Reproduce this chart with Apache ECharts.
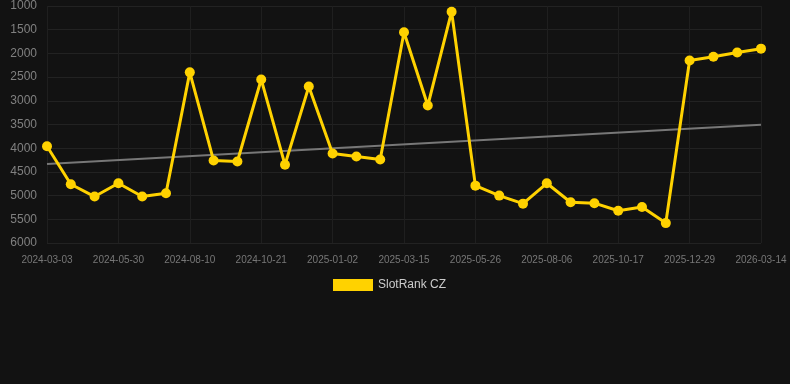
<!DOCTYPE html>
<html><head><meta charset="utf-8">
<script src="https://cdn.jsdelivr.net/npm/echarts@6/dist/echarts.min.js"></script>
<style>html,body{margin:0;padding:0;background:#121212;}#c{width:790px;height:384px;}</style>
</head><body><div id="c"></div>
<script>
const categories = ['2024-03-03','2024-03-31','2024-04-29','2024-05-30','2024-06-23','2024-07-17','2024-08-10','2024-09-03','2024-09-27','2024-10-21','2024-11-14','2024-12-09','2025-01-02','2025-01-26','2025-02-19','2025-03-15','2025-04-08','2025-05-02','2025-05-26','2025-06-19','2025-07-13','2025-08-06','2025-08-30','2025-09-23','2025-10-17','2025-11-10','2025-12-05','2025-12-29','2026-01-23','2026-02-17','2026-03-14'];
const rankValues = [3960,4760,5020,4740,5020,4950,2400,4260,4280,2550,4350,2700,4110,4175,4240,1555,3100,1120,4790,5000,5170,4740,5140,5160,5320,5240,5580,2150,2070,1980,1900];
const trendStart = 4335;
const trendEnd = 3507;
const seriesName = 'SlotRank CZ';

const chart = echarts.init(document.getElementById('c'), null, {renderer:'canvas'});
chart.setOption({
  backgroundColor: '#121212',
  animation: false,
  grid: {left: 47, right: 29, top: 6, bottom: 141},
  legend: {
    top: 274, left: 328,
    itemWidth: 40, itemHeight: 12, itemGap: 10,
    textStyle: {color: '#cccccc', fontSize: 12},
    data: [{name: seriesName, icon: 'rect'}]
  },
  xAxis: {
    type: 'category', data: categories, boundaryGap: false,
    axisLine: {show: false}, axisTick: {show: false},
    axisLabel: {color: '#777', fontSize: 10, interval: 2, margin: 12},
    splitLine: {show: true, interval: 2, lineStyle: {color: '#1f1f1f'}}
  },
  yAxis: {
    type: 'value', inverse: true, min: 1000, max: 6000, interval: 500,
    axisLine: {show: false}, axisTick: {show: false},
    axisLabel: {color: '#808080', fontSize: 12, margin: 10, formatter: v => String(v)},
    splitLine: {lineStyle: {color: '#222'}}
  },
  series: [
    {
      name: 'trend', type: 'line', symbol: 'none', silent: true,
      data: [[categories[0], trendStart], [categories[categories.length-1], trendEnd]],
      lineStyle: {color: '#777', width: 2}, z: 1
    },
    {
      name: seriesName, type: 'line', data: rankValues,
      symbol: 'circle', symbolSize: 10,
      itemStyle: {color: '#FFD200'},
      lineStyle: {color: '#FFD200', width: 3}, z: 2
    }
  ]
});
</script></body></html>
